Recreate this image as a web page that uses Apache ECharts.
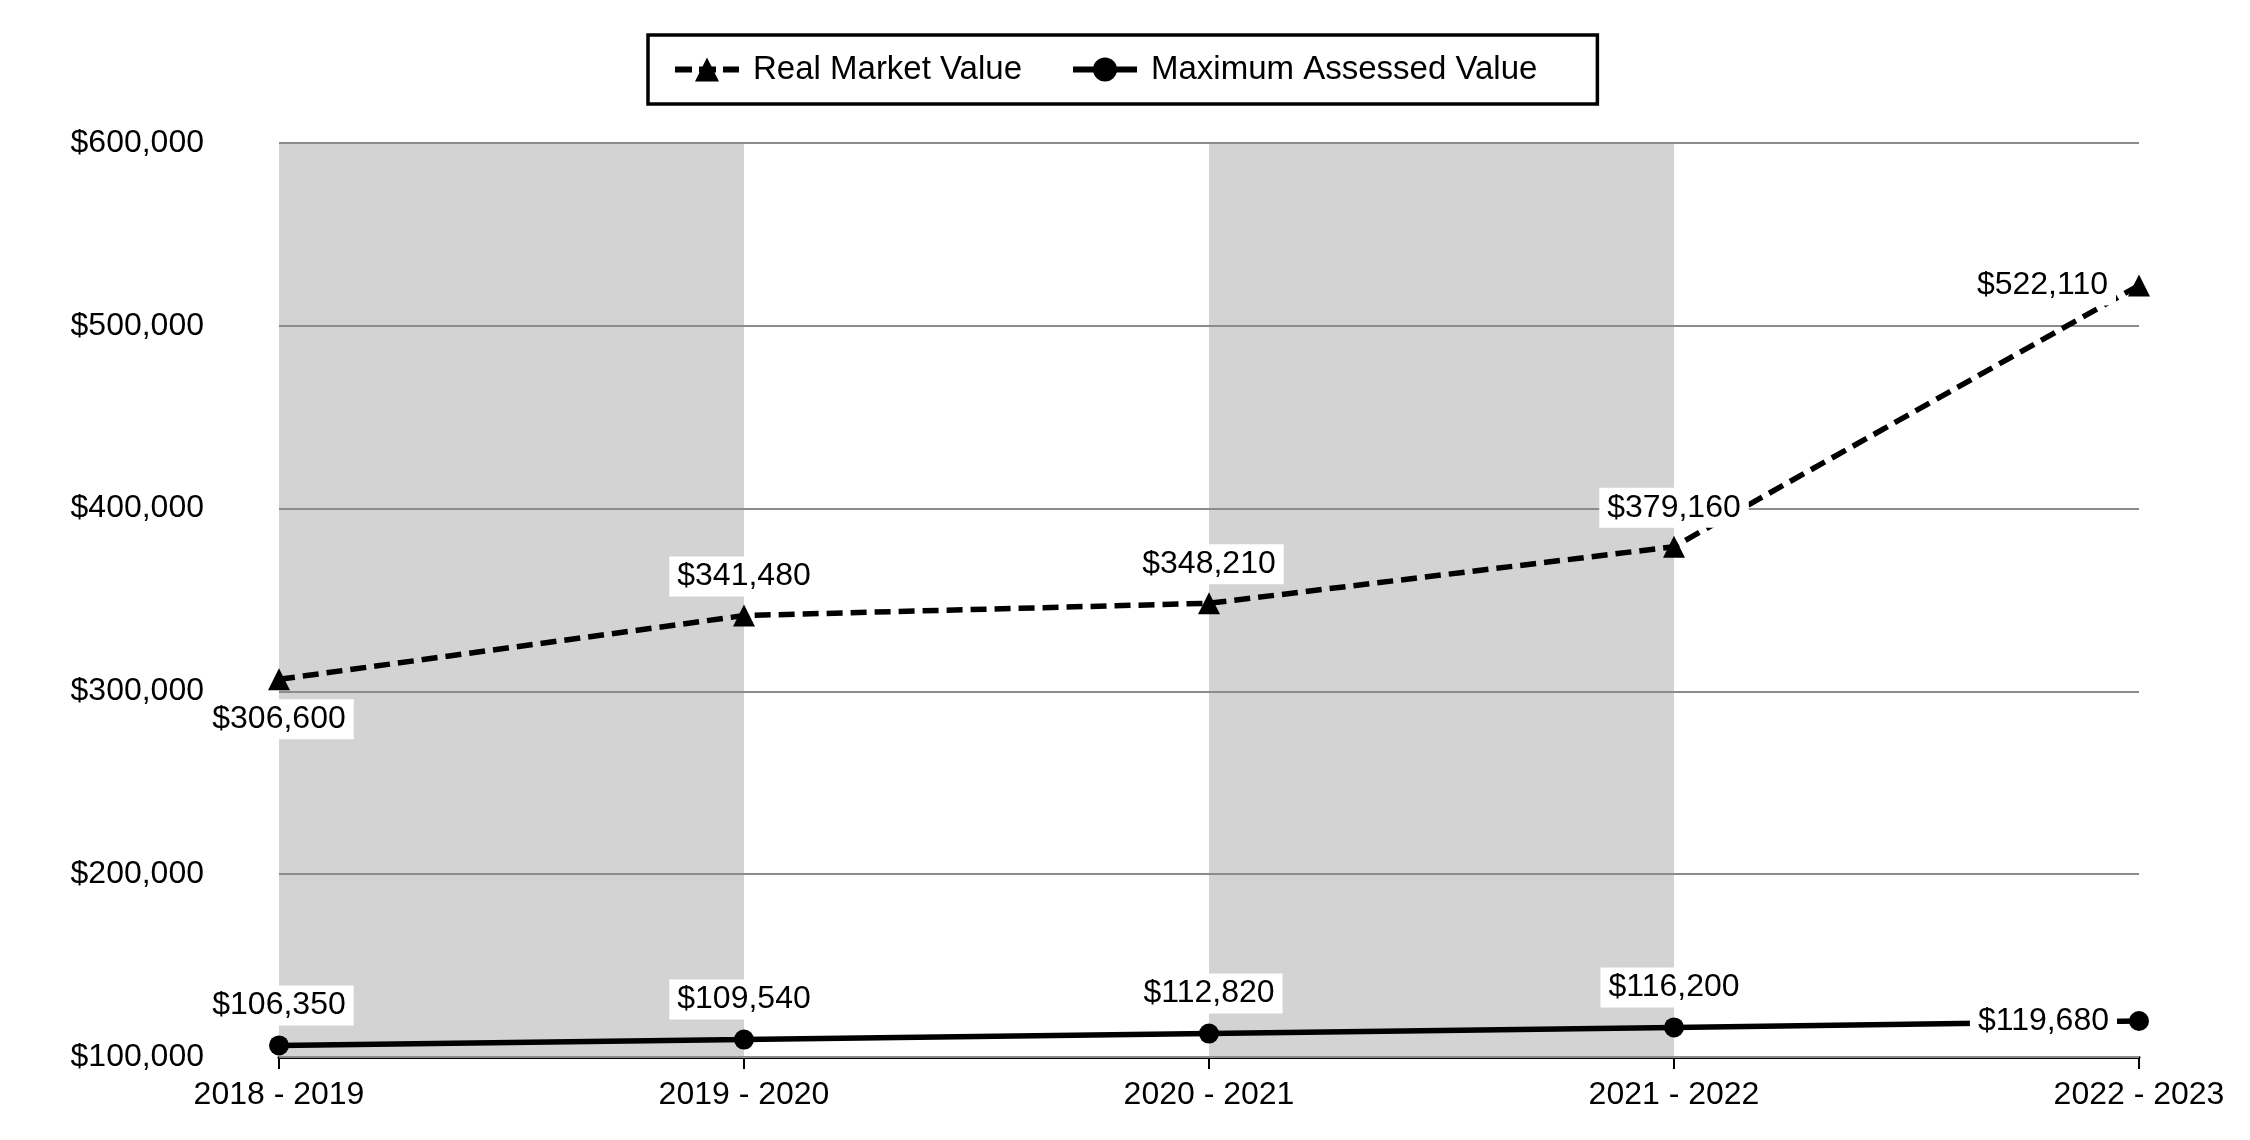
<!DOCTYPE html>
<html>
<head>
<meta charset="utf-8">
<script src="https://cdn.jsdelivr.net/npm/echarts@6/dist/echarts.min.js"></script>
<style>
html,body{margin:0;padding:0;background:#fff;}
#chart{width:2250px;height:1140px;}
</style>
</head>
<body>
<div id="chart"></div>
<script>
var categories = ['2018 - 2019', '2019 - 2020', '2020 - 2021', '2021 - 2022', '2022 - 2023'];
var realMarketValue = [306600, 341480, 348210, 379160, 522110];
var maxAssessedValue = [106350, 109540, 112820, 116200, 119680];
var yTicks = [100000, 200000, 300000, 400000, 500000, 600000];
var seriesNames = ['Real Market Value', 'Maximum Assessed Value'];

var FONT = '"Liberation Sans", Arial, sans-serif';
var rmvLabelPos = ['bottom', 'top', 'top', 'top', 'left'];
var mavLabelPos = ['top', 'top', 'top', 'top', 'left'];

function money(v) { return '$' + Number(v).toLocaleString('en-US'); }

function labelFor(pos, dist) {
  return {
    show: true, position: pos, distance: dist,
    formatter: function (p) { return money(p.value); },
    fontFamily: FONT, fontSize: 32, color: '#000',
    backgroundColor: '#fff', padding: [4, 8, 4, 8]
  };
}

var chart = echarts.init(document.getElementById('chart'), null, { renderer: 'canvas' });
chart.setOption({
  animation: false,
  backgroundColor: '#fff',
  textStyle: { fontFamily: FONT },
  legend: {
    left: 648, top: 35,
    padding: [18, 60, 18, 24],
    itemWidth: 64, itemHeight: 30, itemGap: 48,
    borderColor: '#000', borderWidth: 3.5,
    textStyle: { fontFamily: FONT, fontSize: 33, color: '#000', padding: [0, 0, 0, 9] },
    data: [
      { name: seriesNames[0], lineStyle: { width: 6, type: [17, 7], color: '#000' } },
      { name: seriesNames[1], lineStyle: { width: 6, type: 'solid', color: '#000' } }
    ]
  },
  grid: { left: 279, right: 111, top: 143, bottom: 83, containLabel: false },
  xAxis: {
    type: 'category', data: categories, boundaryGap: false, z: 0,
    axisLine: { show: true, lineStyle: { color: '#000', width: 3 } },
    axisTick: { show: true, length: 12, lineStyle: { color: '#000', width: 2 } },
    axisLabel: { fontFamily: FONT, fontSize: 32, color: '#000', margin: 22 },
    splitLine: { show: false },
    splitArea: { show: true, areaStyle: { color: ['#d3d3d3', 'rgba(255,255,255,0)'] } }
  },
  yAxis: {
    type: 'value', min: yTicks[0], max: yTicks[yTicks.length - 1], interval: yTicks[1] - yTicks[0], z: 1,
    axisLine: { show: false }, axisTick: { show: false },
    axisLabel: { fontFamily: FONT, fontSize: 32, color: '#000', margin: 75, formatter: money },
    splitLine: { show: true, lineStyle: { color: '#8c8c8c', width: 2 } }
  },
  series: [
    {
      name: seriesNames[0], type: 'line',
      symbol: 'triangle', symbolSize: 22,
      lineStyle: { color: '#000', width: 5.5, type: [16, 8] },
      itemStyle: { color: '#000' },
      data: realMarketValue.map(function (v, i) {
        var p = rmvLabelPos[i];
        return { value: v, label: labelFor(p, p === 'top' ? 8 : (p === 'bottom' ? 9 : 12)) };
      }),
      z: 3
    },
    {
      name: seriesNames[1], type: 'line',
      symbol: 'circle', symbolSize: 20,
      lineStyle: { color: '#000', width: 5.5, type: 'solid' },
      itemStyle: { color: '#000' },
      data: maxAssessedValue.map(function (v, i) {
        return { value: v, label: labelFor(mavLabelPos[i], mavLabelPos[i] === 'top' ? 10 : 12) };
      }),
      z: 3
    }
  ]
});
</script>
</body>
</html>
